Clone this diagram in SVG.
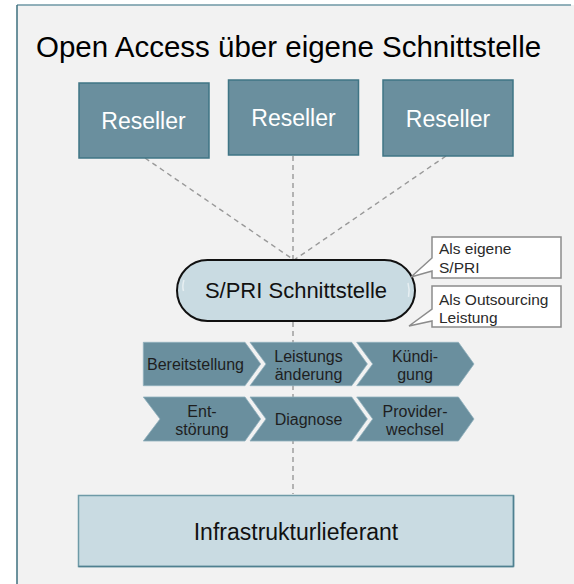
<svg xmlns="http://www.w3.org/2000/svg" width="574" height="584" viewBox="0 0 574 584">
<style>
  text { font-family: "Liberation Sans", Arial, sans-serif; }
  .reseller rect { fill: #6a8f9e; stroke: #3f7585; stroke-width: 1.5; }
  .reseller text { fill: #ffffff; font-size: 23px; text-anchor: middle; }
  .conn line { stroke: #999999; stroke-width: 1.4; stroke-dasharray: 5 4; fill: none; }
  .chev polygon { fill: #6a8f9e; stroke: #8fb0bd; stroke-width: 0.8; }
  .chev text { fill: #1e1e1e; font-size: 16px; text-anchor: middle; }
  .callout path { fill: #ffffff; stroke: #8c8c8c; stroke-width: 1.5; }
  .callout text { fill: #2a2a2a; font-size: 15.5px; }
</style>
<rect x="0" y="0" width="574" height="584" fill="#ffffff"/>
<rect x="17" y="5" width="557" height="590" fill="#f2f2f2"/>
<line x1="17" y1="5" x2="571" y2="5" stroke="#6e97a4" stroke-width="1.5"/>
<line x1="17" y1="5" x2="17" y2="584" stroke="#3d6f7e" stroke-width="1.5"/>

<text x="36" y="57" font-size="29.5" fill="#000000">Open Access über eigene Schnittstelle</text>

<g class="conn" id="connectors">
  <line x1="145" y1="158" x2="294" y2="260"/>
  <line x1="293" y1="156" x2="293" y2="260"/>
  <line x1="446" y1="156" x2="294" y2="260"/>
  <line x1="293" y1="322" x2="293" y2="494"/>
</g>

<g class="reseller" id="reseller1">
  <rect x="79" y="83" width="130" height="75"/>
  <text x="143.5" y="129">Reseller</text>
</g>
<g class="reseller" id="reseller2">
  <rect x="228.5" y="80" width="130" height="75"/>
  <text x="293.5" y="126">Reseller</text>
</g>
<g class="reseller" id="reseller3">
  <rect x="383" y="80" width="130" height="76"/>
  <text x="448" y="126.5">Reseller</text>
</g>

<g id="spri">
  <rect x="177" y="260" width="238" height="61" rx="30.5" ry="30.5" fill="#c9dbe2" stroke="#111111" stroke-width="2"/>
  <path d="M184 280 Q182 286 183.5 291" fill="none" stroke="#ffffff" stroke-width="1.5" opacity="0.55"/>
  <path d="M408 283 Q410 290 408.5 297" fill="none" stroke="#ffffff" stroke-width="1.5" opacity="0.55"/>
  <text x="296" y="298" font-size="22" text-anchor="middle" fill="#111111">S/PRI Schnittstelle</text>
</g>

<g class="callout" id="callout1">
  <path d="M432 237 H561 V278 H432 V271 L411 277 L432 258 Z"/>
  <text x="439" y="254">Als eigene</text>
  <text x="439" y="272.5">S/PRI</text>
</g>
<g class="callout" id="callout2">
  <path d="M432 286 H561 V327 H432 V321 L409 326 L432 309 Z"/>
  <text x="439" y="304.5">Als Outsourcing</text>
  <text x="439" y="323">Leistung</text>
</g>

<g class="chev" id="bereitstellung">
  <polygon points="143.3,342.3 245,342.3 260.7,364 245,385.7 143.3,385.7"/>
  <text x="195.5" y="370">Bereitstellung</text>
</g>
<g class="chev" id="leistungsaenderung">
  <polygon points="250,342.3 351.7,342.3 367.4,364 351.7,385.7 250,385.7 266,364"/>
  <text x="308.5" y="361.5">Leistungs</text>
  <text x="308.5" y="380">änderung</text>
</g>
<g class="chev" id="kuendigung">
  <polygon points="356.7,342.3 458.4,342.3 474,364 458.4,385.7 356.7,385.7 372.7,364"/>
  <text x="415" y="361.5">Kündi-</text>
  <text x="415" y="380">gung</text>
</g>
<g class="chev" id="entstoerung">
  <polygon points="143.3,397 245,397 260.7,419 245,441 143.3,441 160,419"/>
  <text x="202" y="416.5">Ent-</text>
  <text x="202" y="435">störung</text>
</g>
<g class="chev" id="diagnose">
  <polygon points="250,397 351.7,397 367.4,419 351.7,441 250,441 266,419"/>
  <text x="308.5" y="425">Diagnose</text>
</g>
<g class="chev" id="providerwechsel">
  <polygon points="356.7,397 458.4,397 474,419 458.4,441 356.7,441 372.7,419"/>
  <text x="415" y="416.5">Provider-</text>
  <text x="415" y="435">wechsel</text>
</g>

<g id="infrastruktur">
  <rect x="78.5" y="495.5" width="435" height="71" fill="#c9dbe2" stroke="#6e9aa7" stroke-width="1.5"/>
  <line x1="78.5" y1="566.5" x2="513.5" y2="566.5" stroke="#4f8090" stroke-width="1.5"/>
  <line x1="513.5" y1="495.5" x2="513.5" y2="566.5" stroke="#4f8090" stroke-width="1.5"/>
  <text x="296" y="539.5" font-size="23" text-anchor="middle" fill="#111111">Infrastrukturlieferant</text>
</g>
</svg>
